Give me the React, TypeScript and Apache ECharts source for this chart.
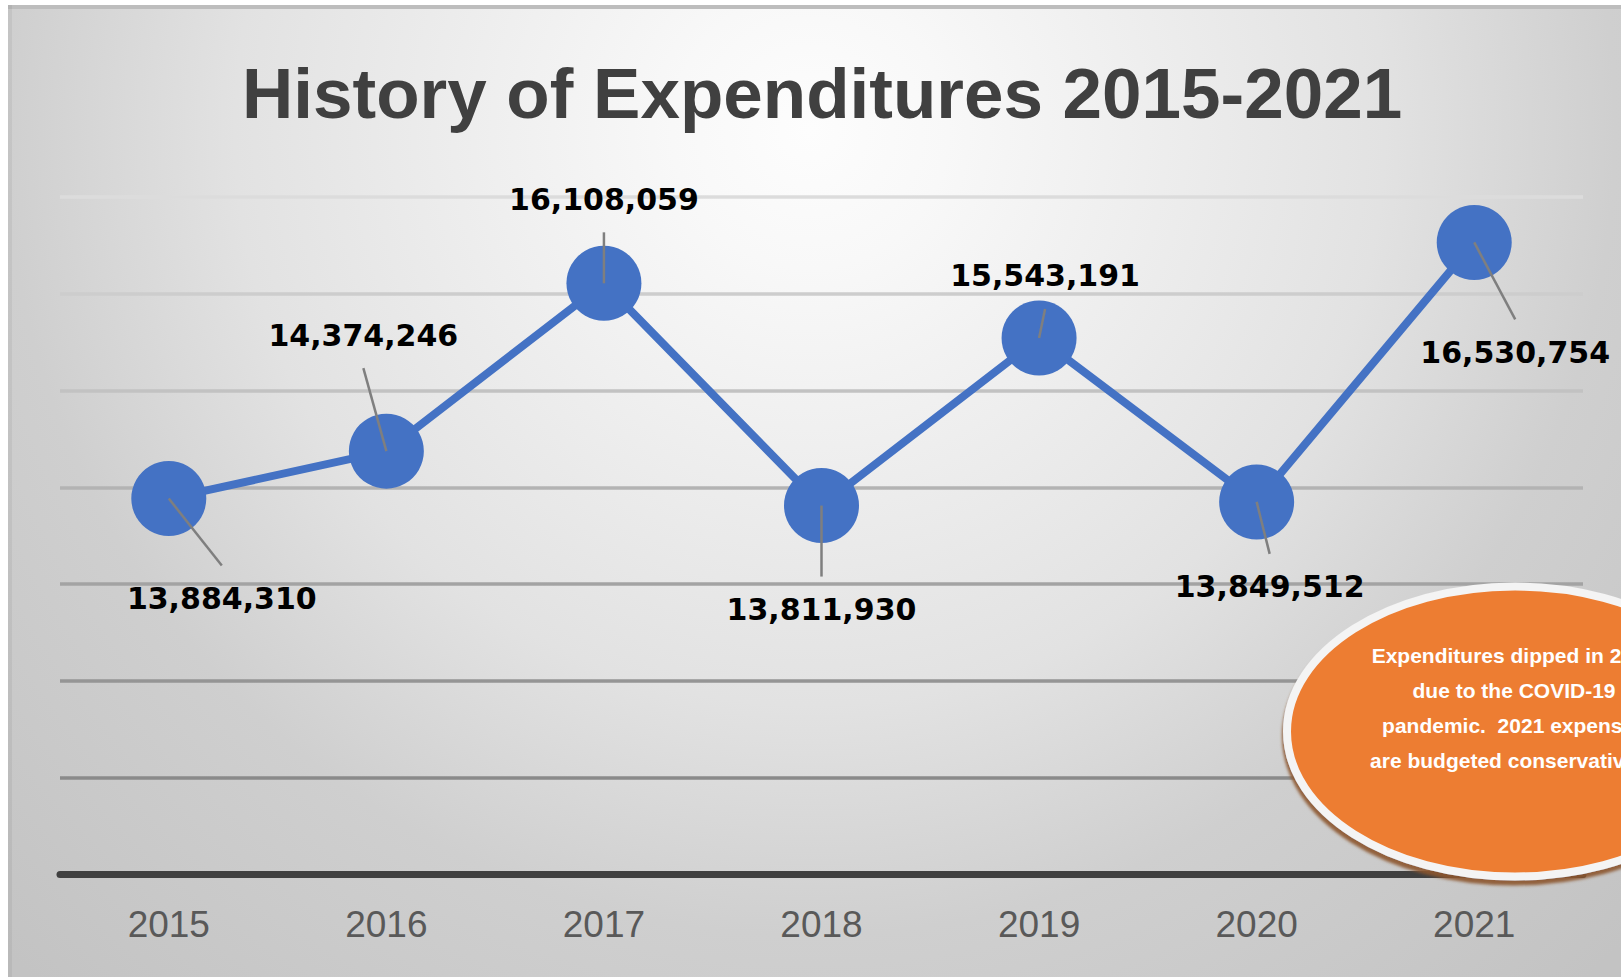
import React, { useEffect, useRef } from 'react';
import * as echarts from 'echarts';

const years = ['2015', '2016', '2017', '2018', '2019', '2020', '2021'];
const expenditures = [13884310, 14374246, 16108059, 13811930, 15543191, 13849512, 16530754];
const yMin = 10000000;
const yMax = 17000000;
const yStep = 1000000;
const chartTitle = 'History of Expenditures 2015-2021';
const noteLines = [
  'Expenditures dipped in 2020',
  'due to the COVID-19',
  'pandemic.  2021 expenses',
  'are budgeted conservatively.',
];

// label placement offsets (px) relative to each point
const labelOffsets = [
  [53, 100],
  [-23, -116],
  [0, -84],
  [0, 104],
  [6, -62],
  [13, 85],
  [41, 110],
];
// split line colours from the bottom (10M) to the top (17M)
const gridColors = ['#404040', '#8a8a8a', '#959595', '#a3a3a3', '#b3b3b3', '#c2c2c2', '#cdcdcd', '#dcdcdc'];

const fmt = (v: number) => v.toLocaleString('en-US');

export default function App() {
  const ref = useRef<HTMLDivElement>(null);
  useEffect(() => {
    if (!ref.current) return;
    const chart = echarts.init(ref.current, undefined, { renderer: 'svg' });
    const bg = new echarts.graphic.RadialGradient(
      810,
      130,
      1150,
      [
        { offset: 0, color: '#fdfdfd' },
        { offset: 0.12, color: '#f8f8f8' },
        { offset: 0.5, color: '#e2e2e2' },
        { offset: 0.7, color: '#cfcfcf' },
        { offset: 1, color: '#c3c3c3' },
      ],
      true
    );
    chart.setOption({
      animation: false,
      title: {
        text: chartTitle,
        left: 242,
        top: 58,
        padding: 0,
        textStyle: {
          fontFamily: 'Liberation Sans',
          fontWeight: 'bold',
          fontSize: 71,
          color: '#404040',
        },
      },
      grid: { left: 60, right: 38, top: 197, bottom: 102.5, containLabel: false },
      xAxis: {
        type: 'category',
        data: years,
        boundaryGap: true,
        axisLine: { show: true, lineStyle: { color: '#404040', width: 7 } },
        axisTick: { show: false },
        axisLabel: {
          margin: 31,
          fontFamily: 'Liberation Sans',
          fontSize: 37,
          color: '#595959',
        },
        z: 3,
      },
      yAxis: {
        type: 'value',
        min: yMin,
        max: yMax,
        interval: yStep,
        axisLine: { show: false },
        axisTick: { show: false },
        axisLabel: { show: false },
        splitLine: { show: true, lineStyle: { color: gridColors, width: 3.5 } },
      },
      graphic: [
        {
          type: 'rect',
          z: -10,
          silent: true,
          shape: { x: 8, y: 5, width: 1613, height: 972 },
          style: { fill: bg },
        },
        {
          type: 'rect',
          z: -9,
          silent: true,
          shape: { x: 8, y: 5, width: 1613, height: 4 },
          style: { fill: '#bdbdbd' },
        },
        {
          type: 'rect',
          z: -9,
          silent: true,
          shape: { x: 8, y: 5, width: 4, height: 972 },
          style: { fill: 'rgba(0,0,0,0.05)' },
        },
        {
          type: 'ellipse',
          z: 100,
          shape: { cx: 1515, cy: 731.5, rx: 228, ry: 145 },
          style: {
            fill: '#ED7D31',
            stroke: '#f4f4f4',
            lineWidth: 8,
            shadowBlur: 3,
            shadowOffsetX: -1,
            shadowOffsetY: 5,
            shadowColor: 'rgba(140,85,45,0.9)',
          },
        },
        {
          type: 'text',
          z: 101,
          style: {
            x: 1514,
            y: 708,
            text: noteLines.join('\n'),
            textAlign: 'center',
            textVerticalAlign: 'middle',
            lineHeight: 35,
            fontFamily: 'Liberation Sans',
            fontWeight: 'bold',
            fontSize: 21,
            fill: '#ffffff',
          },
        },
      ],
      series: [
        {
          type: 'line',
          data: expenditures,
          symbol: 'circle',
          symbolSize: 75,
          itemStyle: { color: '#4472C4' },
          lineStyle: { color: '#4472C4', width: 8 },
          z: 5,
        },
        {
          type: 'custom',
          z: 6,
          data: expenditures.map((v, i) => [i, v]),
          renderItem: (params: any, api: any) => {
            const i = api.value(0);
            const v = api.value(1);
            const p = api.coord([i, v]);
            const off = labelOffsets[i];
            const lx = p[0] + off[0];
            const ly = p[1] + off[1];
            const endY = ly - Math.sign(off[1]) * 33;
            return {
              type: 'group',
              children: [
                {
                  type: 'line',
                  shape: { x1: p[0], y1: p[1], x2: lx, y2: endY },
                  style: { stroke: '#7f7f7f', lineWidth: 2.5 },
                },
                {
                  type: 'text',
                  style: {
                    x: lx,
                    y: ly,
                    text: fmt(v),
                    textAlign: 'center',
                    textVerticalAlign: 'middle',
                    fontFamily: 'DejaVu Sans',
                    fontWeight: 'bold',
                    fontSize: 30,
                    fill: '#000000',
                  },
                },
              ],
            };
          },
        },
      ],
    });
    return () => chart.dispose();
  }, []);
  return (
    <div
      ref={ref}
      style={{ position: 'fixed', left: 0, top: 0, width: 1621, height: 977, background: '#ffffff' }}
    />
  );
}
